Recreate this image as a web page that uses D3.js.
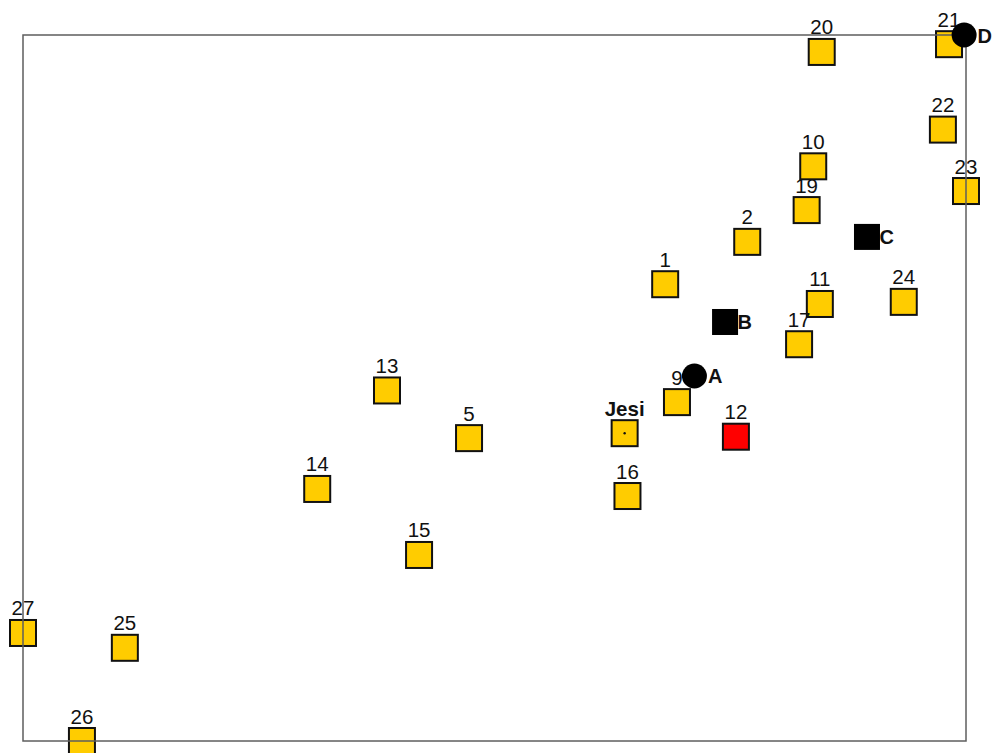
<!DOCTYPE html>
<html><head><meta charset="utf-8">
<script src="https://cdn.jsdelivr.net/npm/d3@7"></script>
<style>body{margin:0;background:#fff}svg{display:block}</style>
</head><body>
<script>
// numbered stations (yellow squares)
const stationLabels = ["1","2","5","9","10","11","13","14","15","16","17","19","20","21","22","23","24","25","26","27"];
const stationX = [68.1,76.8,47.3,69.35,83.8,84.5,38.6,31.2,42.0,64.1,82.3,83.1,84.7,98.2,97.55,100,93.4,10.8,6.25,0];
const stationY = [64.7,70.7,42.9,48.0,81.4,61.9,49.65,35.7,26.35,34.7,56.2,75.2,97.6,98.7,86.6,77.9,62.2,13.2,0,15.3];
// highlighted station (red)
const redLabels = ["12"];
const redX = [75.6];
const redY = [43.1];
// reference location
const refLabels = ["Jesi"];
const refX = [63.8];
const refY = [43.6];
// black squares
const sqLabels = ["B","C"];
const sqX = [74.45,89.5];
const sqY = [59.35,71.4];
// black circles
const circLabels = ["A","D"];
const circX = [71.2,99.8];
const circY = [51.7,100];

const W = 997, H = 753;
const svg = d3.select("body").append("svg").attr("width", W).attr("height", H);
const x = d3.scaleLinear().domain([0,100]).range([23,966]);
const y = d3.scaleLinear().domain([0,100]).range([741,35]);
const S = 26;
const font = "Liberation Sans, Arial, sans-serif";

function squares(lx, ly, fill) {
  svg.append("g").selectAll("rect").data(lx.map((d,i)=>[d,ly[i]])).join("rect")
    .attr("x", d=>x(d[0])-S/2).attr("y", d=>y(d[1])-S/2)
    .attr("width", S).attr("height", S)
    .attr("fill", fill).attr("stroke", "#111").attr("stroke-width", 2);
}
function topLabels(labels, lx, ly, weight) {
  svg.append("g").selectAll("text").data(labels).join("text")
    .attr("x", (d,i)=>x(lx[i])).attr("y", (d,i)=>y(ly[i])-17.5)
    .attr("text-anchor","middle").attr("font-family", font)
    .attr("font-size", 20.5).attr("font-weight", weight).attr("fill","#111")
    .text(d=>d);
}

squares(stationX, stationY, "#FFCC00");
squares(redX, redY, "#FF0000");
squares(refX, refY, "#FFCC00");
svg.append("g").selectAll("circle").data(refX).join("circle")
  .attr("cx",(d)=>x(d)).attr("cy",(d,i)=>y(refY[i])).attr("r",1.2).attr("fill","#111");

topLabels(stationLabels, stationX, stationY, "normal");
topLabels(redLabels, redX, redY, "normal");
topLabels(refLabels, refX, refY, "bold");

// frame
svg.append("rect").attr("x", x(0)).attr("y", y(100))
  .attr("width", x(100)-x(0)).attr("height", y(0)-y(100))
  .attr("fill","none").attr("stroke","#5e5e5e").attr("stroke-width",1.5);

// black squares
svg.append("g").selectAll("rect").data(sqX).join("rect")
  .attr("x", d=>x(d)-S/2).attr("y", (d,i)=>y(sqY[i])-S/2)
  .attr("width", S).attr("height", S).attr("fill","#000");
// black circles
svg.append("g").selectAll("circle").data(circX).join("circle")
  .attr("cx", d=>x(d)).attr("cy", (d,i)=>y(circY[i])).attr("r", 12.5).attr("fill","#000");

function sideLabels(labels, lx, ly, dx) {
  svg.append("g").selectAll("text").data(labels).join("text")
    .attr("x", (d,i)=>x(lx[i])+dx).attr("y", (d,i)=>y(ly[i])+7.5)
    .attr("font-family", font).attr("font-size", 20).attr("font-weight","bold").attr("fill","#111")
    .text(d=>d);
}
sideLabels(sqLabels, sqX, sqY, 12.5);
sideLabels(circLabels, circX, circY, 13.5);
</script>
</body></html>
